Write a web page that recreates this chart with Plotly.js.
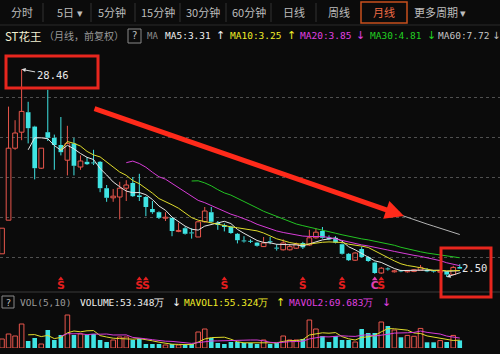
<!DOCTYPE html>
<html><head><meta charset="utf-8">
<script src="https://cdn.plot.ly/plotly-3.0.1.min.js"></script>
<style>html,body{margin:0;padding:0;background:#0b0b0b;}#chart{width:500px;height:354px;}</style>
</head><body><div id="chart"></div>
<script>
// ---- monthly candles (front-adjusted) ----
const openP  = [5.4,9.6,18.6,20.6,23.1,21.3,16.1,20.6,19.9,19.0,17.1,19.2,16.25,16.9,16.8,16.9,13.6,12.4,12.5,13.6,14.25,12.7,12.5,11.0,10.6,9.85,9.9,8.2,8.6,8.05,7.5,9.4,10.6,9.3,9.0,8.8,7.9,7.05,6.95,6.8,6.3,6.95,6.15,5.9,5.9,6.1,6.75,6.5,7.4,8.25,7.45,7.4,6.6,5.4,4.6,6.0,5.0,4.3,3.0,3.55,3.15,3.3,3.15,3.2,3.35,3.4,3.22,3.1,3.2,2.8,3.75];
const highP  = [8.6,23.8,22.1,28.46,24.4,21.4,18.6,25.9,20.3,22.5,21.4,19.9,17.7,17.5,18.4,17.0,14.0,13.5,14.4,14.6,15.0,15.4,12.6,12.0,10.7,10.6,9.9,9.3,8.8,8.6,9.5,11.25,11.25,9.5,9.2,8.9,8.0,7.6,7.2,6.9,7.5,7.5,6.6,7.2,6.6,6.8,6.9,8.4,8.6,8.75,7.7,7.6,6.7,5.5,5.6,6.3,5.1,4.4,3.75,3.7,3.4,3.4,3.3,3.5,4.0,3.6,3.3,3.3,3.25,3.9,4.1];
const lowP   = [5.4,9.6,18.4,19.6,19.2,14.7,16.0,19.5,15.9,17.7,15.2,15.2,15.9,16.5,16.5,13.1,11.9,11.9,9.7,12.0,12.5,12.0,10.1,10.4,9.75,9.5,7.6,8.1,7.8,7.3,7.5,9.3,9.3,8.4,8.2,7.9,6.7,6.8,6.75,6.3,6.25,6.6,5.8,5.8,5.8,6.0,6.0,6.4,7.3,7.3,7.1,6.7,5.3,4.5,4.5,4.9,4.4,2.9,2.9,3.3,3.05,3.1,3.05,3.1,3.3,3.1,3.05,3.0,2.5,2.75,3.5];
const closeP = [8.6,18.6,20.5,23.2,21.1,16.1,18.6,19.9,19.0,18.1,19.2,16.4,17.0,16.6,16.7,13.6,12.4,12.6,13.6,14.0,12.6,12.5,11.25,10.6,9.9,9.95,8.25,8.3,7.9,7.95,9.4,10.75,9.4,9.0,8.75,8.0,7.1,6.95,6.9,6.4,6.75,6.85,6.05,6.75,6.3,6.6,6.2,7.4,8.1,7.4,7.2,6.8,5.4,4.6,5.5,5.0,4.5,3.0,3.6,3.45,3.25,3.2,3.22,3.4,3.7,3.2,3.18,3.2,2.8,3.7,3.55];
// volume, 万股
const volume = [63,98,84,168,49,70,28,126,56,91,231,91,98,91,98,56,42,56,77,77,56,63,28,28,28,21,28,21,21,28,112,133,70,35,28,42,42,35,35,28,56,28,35,84,56,56,63,196,133,84,42,84,56,56,42,133,105,105,182,154,126,75,88,82,137,40,40,52,42,88,53.348];
// signal markers under the candles
const sigIdx  = [9,21,22,34,46,52,57,58];
const sigText = ['S','S','S','S','S','S','C','S'];
const gridPrices = [5,10,15,20,25];
const hiLabel = '28.46', loLabel = '2.50';
const hiIdx = 3, loIdx = 68;

// ---- derived ----
const N = closeP.length;
const X = closeP.map((_, i) => i);
function ma(a, n) { return a.map((_, i) => { if (i < n - 1) return null; let s = 0; for (let k = i - n + 1; k <= i; k++) s += a[k]; return s / n; }); }
const RED = '#e8564c', CYAN = '#3fe3e3';
const up = X.filter(i => closeP[i] >= openP[i]);
const dn = X.filter(i => closeP[i] < openP[i]);
function body(list) {
  return { x: list, base: list.map(i => Math.min(openP[i], closeP[i])),
           y: list.map(i => Math.max(Math.abs(closeP[i] - openP[i]), 0.12)) };
}
function wicks(list) {
  const wx = [], wy = [];
  list.forEach(i => {
    const t = Math.max(openP[i], closeP[i]), b = Math.min(openP[i], closeP[i]);
    if (highP[i] > t) { wx.push(i, i, null); wy.push(t, highP[i], null); }
    if (lowP[i] < b) { wx.push(i, i, null); wy.push(lowP[i], b, null); }
  });
  return { x: wx, y: wy };
}
const bu = body(up), bd = body(dn), wu = wicks(up), wd = wicks(dn);
const sigColor = sigText.map(t => t === 'C' ? '#e040b0' : '#e41e1e');
const traces = [
  { type: 'scatter', mode: 'lines', x: wu.x, y: wu.y, line: { color: RED, width: 1 }, hoverinfo: 'skip' },
  { type: 'scatter', mode: 'lines', x: wd.x, y: wd.y, line: { color: CYAN, width: 1 }, hoverinfo: 'skip' },
  { type: 'bar', x: bu.x, y: bu.y, base: bu.base, width: 0.72, marker: { color: 'rgba(0,0,0,0)', line: { color: RED, width: 1 } } },
  { type: 'bar', x: bd.x, y: bd.y, base: bd.base, width: 0.72, marker: { color: CYAN, line: { width: 0 } } },
  { type: 'scatter', mode: 'lines', x: X, y: ma(closeP, 5), line: { color: '#e6e6e6', width: 1 } },
  { type: 'scatter', mode: 'lines', x: X, y: ma(closeP, 10), line: { color: '#e0dc2c', width: 1 } },
  { type: 'scatter', mode: 'lines', x: X, y: ma(closeP, 20), line: { color: '#d83cd8', width: 1 } },
  { type: 'scatter', mode: 'lines', x: X, y: ma(closeP, 30), line: { color: '#22c422', width: 1 } },
  { type: 'scatter', mode: 'lines', x: X, y: ma(closeP, 60), line: { color: '#b4b4b4', width: 1 } },
  // volume
  { type: 'bar', x: up, y: up.map(i => volume[i]), yaxis: 'y2', width: 0.7, marker: { color: 'rgba(0,0,0,0)', line: { color: RED, width: 1 } } },
  { type: 'bar', x: dn, y: dn.map(i => volume[i]), yaxis: 'y2', width: 0.7, marker: { color: CYAN, line: { width: 0 } } },
  { type: 'scatter', mode: 'lines', x: X, y: ma(volume, 5), yaxis: 'y2', line: { color: '#e0dc2c', width: 1 } },
  { type: 'scatter', mode: 'lines', x: X, y: ma(volume, 10), yaxis: 'y2', line: { color: '#d83cd8', width: 1 } },
  // signals
  { type: 'scatter', mode: 'markers', x: sigIdx, y: sigIdx.map(() => 2.25), marker: { symbol: 'triangle-up', size: 5, color: sigColor } },
  { type: 'scatter', mode: 'text', x: sigIdx, y: sigIdx.map(() => 1.3), text: sigText.map(t => '<b>' + t + '</b>'),
    textfont: { family: 'DejaVu Sans', size: 11, color: sigColor } }
];

// ---- page furniture ----
const W = 500, H = 354;
const px = x => x / W, py = y => 1 - y / H;
const ann = [], shp = [];
function txt(x, y, t, color, size, fam, xa) {
  ann.push({ xref: 'paper', yref: 'paper', x: px(x), y: py(y), text: t, showarrow: false,
    xanchor: xa || 'left', yanchor: 'middle', font: { color: color, size: size, family: fam } });
}
const CJK = 'Noto Sans CJK SC', MONO = 'DejaVu Sans Mono';
// toolbar
const tb = [['分时',22],['5日 ▾',70],['5分钟',112],['15分钟',158],['30分钟',203],['60分钟',249],['日线',294],['周线',339],['月线',384],['更多周期 ▾',440]];
tb.forEach(([t, c]) => txt(c, 12.5, t, t === '月线' ? '#ee6a44' : '#bdbdbd', 11, CJK, 'center'));
[43, 91, 135, 180, 226, 271, 316].forEach(x => shp.push({ type: 'line', xref: 'paper', yref: 'paper', x0: px(x), x1: px(x), y0: py(3), y1: py(22), line: { color: '#333', width: 1 } }));
shp.push({ type: 'rect', xref: 'paper', yref: 'paper', x0: px(361), x1: px(407), y0: py(23), y1: py(2), line: { color: '#c8501e', width: 1.5 } });
shp.push({ type: 'line', xref: 'paper', yref: 'paper', x0: 0, x1: 1, y0: py(25), y1: py(25), line: { color: '#2a2a2a', width: 1 } });
// info line
txt(3, 36, 'ST花王', '#f2f0d2', 11.5, CJK);
txt(42, 36, '（月线，前复权）', '#9a9a9a', 10, CJK);
shp.push({ type: 'rect', xref: 'paper', yref: 'paper', x0: px(128), x1: px(141), y0: py(43), y1: py(29), line: { color: '#8a8a8a', width: 1 } });
txt(134.5, 36, '?', '#bbbbbb', 10, 'DejaVu Sans', 'center');
txt(145, 36, 'MA', '#8c8c8c', 9, MONO);
txt(163, 36, 'MA5:3.31', '#f0f0f0', 9.5, MONO);
txt(214, 36, '↑', '#f0f0f0', 11, 'DejaVu Sans');
txt(228, 36, 'MA10:3.25', '#f0ec28', 9.5, MONO);
txt(285, 36, '↑', '#f0ec28', 11, 'DejaVu Sans');
txt(298, 36, 'MA20:3.85', '#e040e0', 9.5, MONO);
txt(354, 36, '↓', '#e040e0', 11, 'DejaVu Sans');
txt(368, 36, 'MA30:4.81', '#22d022', 9.5, MONO);
txt(425, 36, '↓', '#22d022', 11, 'DejaVu Sans');
txt(436, 36, 'MA60:7.72', '#c4c4c4', 9.5, MONO);
txt(490, 36, '↓', '#c4c4c4', 10, 'DejaVu Sans');
// separator & volume header
shp.push({ type: 'line', xref: 'paper', yref: 'paper', x0: 0, x1: 1, y0: py(292), y1: py(292), line: { color: '#3a3a3a', width: 1 } });
shp.push({ type: 'rect', xref: 'paper', yref: 'paper', x0: px(2), x1: px(14), y0: py(308), y1: py(296), line: { color: '#8a8a8a', width: 1 } });
txt(8, 302, '?', '#bbbbbb', 9.5, 'DejaVu Sans', 'center');
txt(18, 302, 'VOL(5,10)', '#9a9a9a', 9.5, MONO);
txt(78, 302, 'VOLUME:53.348万', '#f0f0f0', 9.5, MONO);
txt(170, 302, '↓', '#f0f0f0', 11, 'DejaVu Sans');
txt(182, 302, 'MAVOL1:55.324万', '#f0ec28', 9.5, MONO);
txt(274, 302, '↑', '#f0ec28', 11, 'DejaVu Sans');
txt(287, 302, 'MAVOL2:69.683万', '#e040e0', 9.5, MONO);
txt(380, 302, '↓', '#e040e0', 11, 'DejaVu Sans');
// highlight boxes and trend arrow
shp.push({ type: 'rect', xref: 'paper', yref: 'paper', x0: px(6), x1: px(98), y0: py(88), y1: py(56), line: { color: '#e8261e', width: 3 } });
shp.push({ type: 'rect', xref: 'paper', yref: 'paper', x0: px(441), x1: px(491), y0: py(297), y1: py(248), line: { color: '#e8261e', width: 3 } });
ann.push({ xref: 'x', yref: 'y', x: hiIdx, y: highP[hiIdx], text: hiLabel, ax: 31, ay: 6, showarrow: true,
  arrowhead: 2, arrowsize: 0.8, arrowwidth: 1, arrowcolor: '#dddddd', font: { color: '#e8e8e8', size: 10.5, family: MONO } });
ann.push({ xref: 'x', yref: 'y', x: loIdx, y: lowP[loIdx], text: loLabel, ax: 28, ay: -9, showarrow: true,
  arrowhead: 2, arrowsize: 0.8, arrowwidth: 1, arrowcolor: '#dddddd', font: { color: '#e8e8e8', size: 10.5, family: MONO } });
ann.push({ xref: 'paper', yref: 'paper', x: px(404), y: py(216), ax: -311, ay: -108, text: '', showarrow: true,
  arrowhead: 2, arrowsize: 0.75, arrowwidth: 5, arrowcolor: '#ff2a1a' });

const layout = {
  width: W, height: H, margin: { l: 0, r: 0, t: 0, b: 0 },
  paper_bgcolor: '#0b0b0b', plot_bgcolor: '#0b0b0b', showlegend: false, barmode: 'overlay',
  xaxis: { range: [-0.306, 76.15], showgrid: false, zeroline: false, showticklabels: false, fixedrange: true },
  yaxis: { domain: [py(291), py(48)], range: [0.75, 31.125], tickvals: gridPrices, showticklabels: false,
           gridcolor: '#505050', griddash: 'dot', gridwidth: 1, zeroline: false },
  yaxis2: { domain: [py(348), py(313)], range: [0, 245], tickvals: [0.5, 244], showticklabels: false,
            gridcolor: '#505050', griddash: 'dot', gridwidth: 1, zeroline: false },
  annotations: ann, shapes: shp
};
Plotly.newPlot('chart', traces, layout, { displayModeBar: false, staticPlot: true });
</script></body></html>
